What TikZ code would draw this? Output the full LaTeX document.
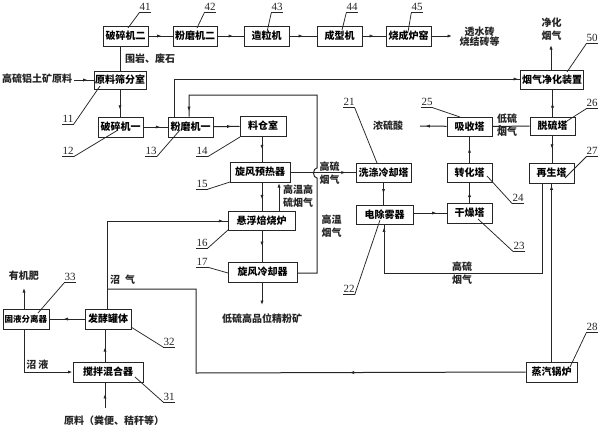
\documentclass[tikz,border=0pt]{standalone}
\usepackage{fontspec}
\setmainfont{Liberation Serif}
\newfontfamily\cjk{Noto Sans CJK SC}
\usetikzlibrary{arrows.meta,decorations.markings}
\tikzset{
  box/.style={draw=black!85,line width=1pt,fill=white,inner sep=0pt,font=\cjk\bfseries\fontsize{10}{10}\selectfont},
  txt/.style={inner sep=0pt,align=center,text=black!85,font=\cjk\bfseries\fontsize{10}{13}\selectfont},
  num/.style={inner sep=0pt,minimum width=11pt,minimum height=11pt,text=black!85,font=\fontsize{11}{11}\selectfont},
  conn/.style={draw=black!85,line width=1pt},
  lead/.style={draw=black!85,line width=0.75pt},
  midarrow/.style={conn,postaction={decorate},decoration={markings,mark=at position #1 with {\arrow{Latex[length=4.5pt,width=3.2pt]}}}},
}
\newcommand{\tag}[3]{% name, centre, text
  \node[num] (#1) at #2 {#3};
  \draw[lead] (#1.south west) -- (#1.south east);
}
\begin{document}
\begin{tikzpicture}[x=1pt,y=-1pt]
\useasboundingbox[fill=white] (0,0) rectangle (600,429);

% boxes: first row
\node[box,minimum width=45pt,minimum height=20pt] (b41) at (125.5,36) {破碎机二};
\node[box,minimum width=44pt,minimum height=20pt] (b42) at (195,36) {粉磨机二};
\node[box,minimum width=45pt,minimum height=20pt] (b43) at (266.5,36) {造粒机};
\node[box,minimum width=45pt,minimum height=20pt] (b44) at (339.5,36) {成型机};
\node[box,minimum width=45pt,minimum height=20pt] (b45) at (408.5,36) {烧成炉窑};
% left column
\node[box,minimum width=52pt,minimum height=18pt] (b11) at (120,80) {原料筛分室};
\node[box,minimum width=45pt,minimum height=20pt] (b12) at (120.5,127) {破碎机一};
\node[box,minimum width=45pt,minimum height=20pt] (b13) at (190.5,127) {粉磨机一};
\node[box,minimum width=46pt,minimum height=20pt] (b14) at (263,126) {料仓室};
\node[box,minimum width=60pt,minimum height=20pt] (b15) at (260,172) {旋风预热器};
\node[box,minimum width=67pt,minimum height=19pt] (b16) at (261.5,220.5) {悬浮焙烧炉};
\node[box,minimum width=69pt,minimum height=20pt] (b17) at (262.5,272) {旋风冷却器};
% acid train
\node[box,minimum width=55pt,minimum height=19pt] (b21) at (383.5,172.5) {洗涤冷却塔};
\node[box,minimum width=57pt,minimum height=19pt] (b22) at (384.5,214.5) {电除雾器};
\node[box,minimum width=45pt,minimum height=20pt] (b23) at (469.5,213) {干燥塔};
\node[box,minimum width=45pt,minimum height=19pt] (b24) at (469.5,172.5) {转化塔};
\node[box,minimum width=45pt,minimum height=19pt] (b25) at (469.5,126.5) {吸收塔};
\node[box,minimum width=45pt,minimum height=18pt] (b26) at (552.5,126) {脱硫塔};
\node[box,minimum width=45pt,minimum height=20pt] (b27) at (551.5,173) {再生塔};
\node[box,minimum width=63pt,minimum height=19pt] (b50) at (552,79.5) {烟气净化装置};
\node[box,minimum width=51pt,minimum height=20pt] (b28) at (551.5,372) {蒸汽锅炉};
% biogas
\node[box,minimum width=46pt,minimum height=20pt,font=\cjk\bfseries\fontsize{8.5}{10}\selectfont] (b33) at (26,319) {固液分离器};
\node[box,minimum width=46pt,minimum height=20pt] (b32) at (108,319) {发酵罐体};
\node[box,minimum width=70pt,minimum height=20pt] (b31) at (108,372) {搅拌混合器};

% free texts
\node[txt] (t1) at (37,79) {高硫铝土矿原料};
\node[txt] (t2) at (150,59) {围岩、废石};
\node[txt] (t3) at (479.5,37) {透水砖\\[-2.5pt]烧结砖等};
\node[txt] (t4) at (551.5,29) {净化\\烟气};
\node[txt] (t5) at (388,126) {浓硫酸};
\node[txt] (t6) at (507,125.5) {低硫\\烟气};
\node[txt] (t7) at (329.5,173.5) {高硫\\烟气};
\node[txt] (t8) at (298,196.5) {高温高\\硫烟气};
\node[txt] (t9) at (331.5,226.5) {高温\\烟气};
\node[txt] (t10) at (462,273.5) {高硫\\烟气};
\node[txt] (t11) at (262,319) {低硫高品位精粉矿};
\node[txt] (t12) at (24,276) {有机肥};
\node[txt] (t13) at (122.5,280) {沼\hspace{5pt}气};
\node[txt] (t14) at (37.5,365) {沼\hspace{2pt}液};
\node[txt] (t15) at (114,421) {原料（粪便、秸秆等）};

% routing coordinates
\coordinate (c1) at (174,79);
\coordinate (c2) at (189,95);
\coordinate (c3) at (317,95);
\coordinate (c5) at (317,178);
\coordinate (c6) at (317,273);
\coordinate (c7) at (107,289);
\coordinate (c8) at (196,289);
\coordinate (c9) at (196,373);
\coordinate (c10) at (107,221);
\coordinate (c11) at (542,273);
\coordinate (c12) at (384,273);
\coordinate (c13) at (551,45);
\coordinate (c14) at (420,126);
\coordinate (c15) at (262,305);
\coordinate (c16) at (279,183);
\coordinate (c17) at (24,288);
\coordinate (c18) at (24,372);
\coordinate (c19) at (105,408);
\coordinate (c20) at (74,80);
\coordinate (c21) at (452,36);
\coordinate (c22) at (279,211);

% connectors, row 1
\draw[midarrow=0.55] (b41) -- (b42);
\draw[midarrow=0.6] (b42) -- (b43);
\draw[midarrow=0.5] (b43) -- (b44);
\draw[midarrow=0.5] (b44) -- (b45);
\draw[-{Latex[length=4.5pt,width=3.2pt]},conn] (b45) -- (c21);
\draw[midarrow=0.7] (c20) -- (b11.west |- c20);
\draw[conn] (b11.north) -- (b11.north |- b41.south);
\draw[midarrow=0.75] (b11.south) -- (b11.south |- b12.north);
\draw[midarrow=0.7] (b12) -- (b13);
\draw[midarrow=0.7] (b13) -- (b14);
\draw[midarrow=0.995] (c1 |- b13.north) -- (c1) -- (b50.west |- c1);
\draw[midarrow=0.985] (c6 -| b17.east) -- (c6) -- (c5) arc[start angle=-90,end angle=-270,x radius=3.5pt,y radius=5pt] -- (c3) -- (c2) -- (c2 |- b13.north);
\draw[midarrow=0.5] (b14.south -| 262,0) -- (262,162);
\draw[midarrow=0.6] (262,182) -- (262,211);
\draw[midarrow=0.5] (262,230) -- (262,262);
\draw[-{Latex[length=4.5pt,width=3.2pt]},conn] (262,282) -- (c15);
\draw[-{Latex[length=4.5pt,width=3.2pt]},conn] (c22) -- (c16);
% flue gas
\draw[midarrow=0.85] (b15.east |- b21) -- (b21);
\draw[midarrow=0.5] (b21.south) -- (b22.north -| b21.south);
\draw[midarrow=0.7] (b22.east |- b23) -- (b23);
\draw[midarrow=0.5] (b23) -- (b24);
\draw[midarrow=0.55] (b24) -- (b25);
\draw[midarrow=0.8] (b25) -- (c14);
\draw[midarrow=0.9] (b26) -- (b25);
\draw[midarrow=0.5] (b26.north) -- (b50.south -| b26.north);
\draw[-{Latex[length=4.5pt,width=3.2pt]},conn] (b50.north -| c13) -- (c13);
\draw[midarrow=0.5] (552,135) -- (b27.north -| 552,0);
\draw[midarrow=0.99] (c11 |- b27.south) -- (c11) -- (c12) -- (c12 |- b22.south);
\draw[midarrow=0.99] (b28.north) -- (b28.north |- b27.south);
% biogas
\draw[midarrow=0.35] (b28.west) -- (c9) -- (c8) -- (c7);
\draw[midarrow=0.98] (c7 |- b32.north) -- (c10) -- (b16.west |- c10);
\draw[midarrow=0.6] (b32) -- (b33);
\draw[midarrow=0.45] (105,362) -- (105,329);
\draw[midarrow=0.55] (c19) -- (c19 |- b31.south);
\draw[-{Latex[length=4.5pt,width=3.2pt]},conn] (c17 |- b33.north) -- (c17);
\draw[-{Latex[length=4.5pt,width=3.2pt]},conn] (c17 |- b33.south) -- (c18) -- (b31.west);

% leader tags
\tag{n41}{(145,7)}{41}\coordinate (e41) at (128,28); \draw[lead] (n41.south west) -- (e41);
\tag{n42}{(210,7)}{42}\coordinate (e42) at (197,28); \draw[lead] (n42.south west) -- (e42);
\tag{n43}{(277,7)}{43}\coordinate (e43) at (267,32); \draw[lead] (n43.south west) -- (e43);
\tag{n44}{(352,7)}{44}\coordinate (e44) at (342,30); \draw[lead] (n44.south west) -- (e44);
\tag{n45}{(417,7)}{45}\coordinate (e45) at (408,32); \draw[lead] (n45.south west) -- (e45);
\tag{n50}{(592,38)}{50}\coordinate (e50) at (567,72); \draw[lead] (n50.south west) -- (e50);
\tag{n26}{(592,103)}{26}\coordinate (e26) at (567,121); \draw[lead] (n26.south west) -- (e26);
\tag{n27}{(592,151)}{27}\coordinate (e27) at (565,178); \draw[lead] (n27.south west) -- (e27);
\tag{n21}{(349,102)}{21}\coordinate (e21) at (377,163); \draw[lead] (n21.south east) -- (e21);
\tag{n25}{(427,102)}{25}\coordinate (e25) at (460,117); \draw[lead] (n25.south east) -- (e25);
\tag{n24}{(518,198)}{24}\coordinate (e24) at (487,176); \draw[lead] (n24.south west) -- (e24);
\tag{n23}{(519,246)}{23}\coordinate (e23) at (478,219); \draw[lead] (n23.south west) -- (e23);
\tag{n22}{(349,289)}{22}\coordinate (e22) at (380,220); \draw[lead] (n22.south east) -- (e22);
\tag{n28}{(592,327)}{28}\coordinate (e28) at (570,367); \draw[lead] (n28.south west) -- (e28);
\tag{n11}{(68,118.5)}{11}\coordinate (e11) at (100,86); \draw[lead] (n11.south east) -- (e11);
\tag{n12}{(68,151)}{12}\coordinate (e12) at (118,130); \draw[lead] (n12.south east) -- (e12);
\tag{n13}{(151,151)}{13}\coordinate (e13) at (180,130); \draw[lead] (n13.south east) -- (e13);
\tag{n14}{(202,151)}{14}\coordinate (e14) at (240,137); \draw[lead] (n14.south east) -- (e14);
\tag{n15}{(202,183.5)}{15}\coordinate (e15) at (230,182); \draw[lead] (n15.south east) -- (e15);
\tag{n16}{(202,242.5)}{16}\coordinate (e16) at (228,230); \draw[lead] (n16.south east) -- (e16);
\tag{n17}{(202,261.5)}{17}\coordinate (e17) at (228,273); \draw[lead] (n17.south east) -- (e17);
\tag{n33}{(70,277)}{33}\coordinate (e33) at (38,313); \draw[lead] (n33.south west) -- (e33);
\tag{n32}{(169,341.5)}{32}\coordinate (e32) at (131,327); \draw[lead] (n32.south west) -- (e32);
\tag{n31}{(169,396.5)}{31}\coordinate (e31) at (135,377); \draw[lead] (n31.south west) -- (e31);
\end{tikzpicture}
\end{document}
